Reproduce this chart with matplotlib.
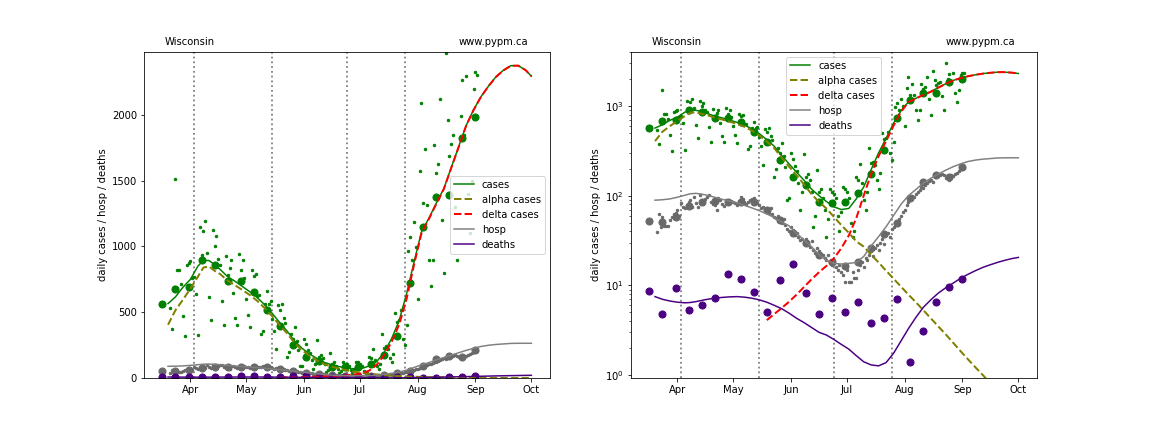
import numpy as np
import pandas as pd
import matplotlib
matplotlib.use('Agg')
import matplotlib.pyplot as plt
import matplotlib.dates as mdates

# Data (Wisconsin, 2021)

# daily reported cases, one value per day starting 2021-03-21
daily_cases = [536, 376, 690, 1511, 820, 820, 711,
               470, 318, 860, 875, 891, 760, 769,
               637, 325, 1145, 934, 1117, 1193, 947,
               617, 444, 1125, 1000, 1082, 904, 863,
               587, 401, 924, 780, 840, 896, 650,
               460, 401, 940, 820, 901, 757, 600,
               477, 384, 820, 775, 790, 627, 630,
               333, 360, 566, 660, 566, 589, 446,
               360, 220, 554, 516, 566, 457, 420,
               160, 200, 338, 300, 389, 280, 210,
               90, 95, 300, 257, 212, 190, 140,
               70, 110, 292, 160, 175, 150, 110,
               45, 60, 193, 110, 120, 95, 70,
               35, 55, 120, 110, 105, 95, 60,
               40, 65, 125, 120, 110, 95, 50,
               35, 40, 160, 150, 224, 140, 90,
               70, 110, 338, 230, 240, 220, 150,
               120, 180, 495, 427, 440, 516, 300,
               250, 400, 965, 1074, 896, 1183, 998,
               600, 1574, 2090, 1328, 1742, 1315, 900,
               700, 900, 1772, 1557, 1628, 2120, 1200,
               800, 2470, 1958, 1688, 1777, 1846, 1300,
               900, 3000, 1990, 2265, 1850, 2300, 1400,
               1100, 1500, 2200, 2328, 2303]

# daily hospitalizations, same dates
daily_hosp = [39, 63, 45, 58, 46, 46, 46,
              54, 58, 63, 64, 69, 60, 82,
              75, 72, 78, 86, 89, 75, 96,
              82, 74, 101, 85, 83, 92, 96,
              101, 86, 81, 78, 70, 94, 89,
              81, 77, 90, 83, 86, 88, 84,
              82, 79, 88, 96, 91, 85, 80,
              84, 90, 92, 95, 87, 82, 78,
              72, 75, 70, 66, 64, 72, 62,
              58, 56, 60, 52, 50, 55, 47,
              43, 40, 45, 41, 36, 38, 35,
              32, 33, 30, 33, 29, 27, 31,
              25, 23, 26, 24, 21, 22, 20,
              19, 22, 18, 17, 19, 16, 15,
              17, 14, 13, 11, 15, 11, 11,
              14, 12, 12, 15, 17, 18, 16,
              20, 19, 22, 24, 21, 26, 28,
              25, 30, 33, 29, 36, 38, 35,
              42, 45, 50, 48, 55, 60, 66,
              70, 78, 85, 92, 100, 96, 104,
              110, 115, 125, 122, 130, 138, 145,
              150, 142, 160, 165, 172, 168, 175,
              170, 158, 162, 150, 168, 165, 175,
              180, 190, 200, 210, 205]

# weekly averages, one value every 7 days starting 2021-03-17
weekly_cases = [561, 677, 695, 898, 859, 737, 737, 655, 515, 399, 249, 160, 131,
                84, 82, 86, 106, 174, 322, 726, 1150, 1375, 1390, 1826, 1986]
weekly_hosp = [52, 51, 58, 77, 86, 87, 84, 84, 84, 69, 53, 38, 30,
               22, 18.4, 16.4, 18.4, 26, 37, 50, 93, 143, 170, 162, 210]
weekly_deaths = [8.7, 4.8, 9.3, 5.3, 6.0, 7.2, 13.3, 11.7, 8.4, 5.0, 11.5, 17.2, 8.2,
                 4.8, 7.2, 5.0, 6.5, 3.8, 4.3, 7.0, 1.4, 3.1, 6.5, 9.7, 11.7]

# model curves, days relative to 2021-04-01
model_days = [-12, -8, -4, 0, 4, 7, 10, 13, 16, 20, 24, 28, 32, 36, 40, 44, 48, 52,
              56, 60, 64, 68, 72, 76, 80, 84, 88, 92, 96, 100, 104, 108, 112, 116,
              120, 124, 128, 132, 136, 140, 144, 148, 152, 156, 160, 164, 168, 172,
              176, 180, 183]
model_cases = [566, 617, 690, 750, 850, 895, 893, 862, 825, 770, 735, 695, 655, 610,
               555, 490, 420, 355, 280, 225, 182, 148, 118, 100, 86, 75, 70, 72, 92,
               125, 195, 300, 435, 640, 880, 1110, 1215, 1330, 1440, 1600, 1760, 1920,
               2040, 2140, 2220, 2290, 2340, 2375, 2375, 2340, 2295]
model_alpha = [405, 516, 595, 680, 770, 840, 848, 815, 790, 740, 705, 668, 630, 585,
               530, 468, 400, 338, 265, 210, 168, 133, 104, 85, 72, 58, 47, 38.5, 31,
               27, 22, 18, 14.6, 11.9, 9.7, 7.9, 6.5, 5.3, 4.3, 3.5, 2.85, 2.3, 1.85,
               1.5, 1.22, 1.0, 0.81, 0.66, 0.54, 0.44, 0.38]
model_delta = [np.nan] * 16 + [4.1, 4.8, 5.6, 6.6, 7.9, 9.6, 11.7, 14.0, 16.5, 20, 26,
               36, 56, 100, 175, 275, 405, 600, 860, 1100, 1209, 1325, 1436, 1597,
               1757, 1918, 2038, 2139, 2219, 2289, 2339, 2374, 2375, 2340, 2295]
model_hosp = [89, 90, 92, 96, 101, 105, 106, 104, 101, 96, 91, 87, 83, 78, 73, 68,
              62.5, 57, 51, 46, 38, 32, 27, 22, 19, 17.6, 17.3, 17.6, 18, 21, 27.5,
              35, 45, 60, 80, 100, 117, 138, 156, 174, 192, 210, 226, 240, 249, 255,
              259, 263, 264, 264, 264]
model_deaths = [7.5, 7.0, 6.7, 6.5, 6.4, 6.45, 6.6, 6.8, 7.0, 7.2, 7.35, 7.45, 7.5,
                7.4, 7.2, 6.9, 6.5, 6.0, 5.5, 4.9, 4.3, 3.85, 3.4, 3.0, 2.8, 2.5, 2.2,
                1.95, 1.65, 1.41, 1.3, 1.27, 1.38, 1.75, 2.4, 3.3, 4.4, 5.7, 6.9, 8.2,
                9.4, 10.6, 12.0, 13.3, 14.6, 15.9, 17.0, 18.1, 19.1, 20.0, 20.5]

# dates of model transitions
transitions = ['2021-04-03', '2021-05-15', '2021-06-24', '2021-07-25']

region = 'Wisconsin'
source = 'www.pypm.ca'

daily_dates = pd.date_range('2021-03-21', periods=len(daily_cases), freq='D')
weekly_dates = pd.date_range('2021-03-17', periods=len(weekly_cases), freq='7D')
model_dates = pd.Timestamp('2021-04-01') + pd.to_timedelta(model_days, unit='D')

fig, axes = plt.subplots(1, 2, figsize=(16, 6), dpi=72)
fig.subplots_adjust(bottom=0.125, top=0.88)

for i, ax in enumerate(axes):
    # data
    ax.scatter(daily_dates, daily_cases, color='green', s=6, zorder=2)
    ax.scatter(weekly_dates, weekly_cases, color='green', s=50, zorder=2)
    ax.scatter(daily_dates, daily_hosp, color='dimgrey', s=6, zorder=2)
    ax.scatter(weekly_dates, weekly_hosp, color='dimgrey', s=50, zorder=2)
    ax.scatter(weekly_dates, weekly_deaths, color='indigo', s=50, zorder=2)

    # model
    ax.plot(model_dates, model_cases, color='green', lw=1.5, label='cases', zorder=3)
    ax.plot(model_dates, model_alpha, color='olive', lw=2, ls='--',
            label='alpha cases', zorder=3)
    ax.plot(model_dates, model_delta, color='red', lw=2, ls='--',
            label='delta cases', zorder=3)
    ax.plot(model_dates, model_hosp, color='grey', lw=1.5, label='hosp', zorder=3)
    ax.plot(model_dates, model_deaths, color='indigo', lw=1.5, label='deaths', zorder=3)

    for d in transitions:
        ax.axvline(pd.Timestamp(d), color='grey', ls=':', lw=1.8, zorder=1)

    ax.xaxis.set_major_locator(mdates.MonthLocator())
    ax.xaxis.set_major_formatter(mdates.DateFormatter('%b'))
    ax.set_ylabel('daily cases / hosp / deaths')
    ax.text(0.05, 1.015, region, transform=ax.transAxes, va='bottom')
    ax.text(0.776, 1.015, source, transform=ax.transAxes, va='bottom')

    if i == 0:
        ax.set_ylim(0, 2480)
        ax.legend(loc='center right')
    else:
        ax.set_yscale('log')
        ax.set_ylim(0.93, 4000)
        ax.legend(loc='upper center')

plt.savefig('out.png')
